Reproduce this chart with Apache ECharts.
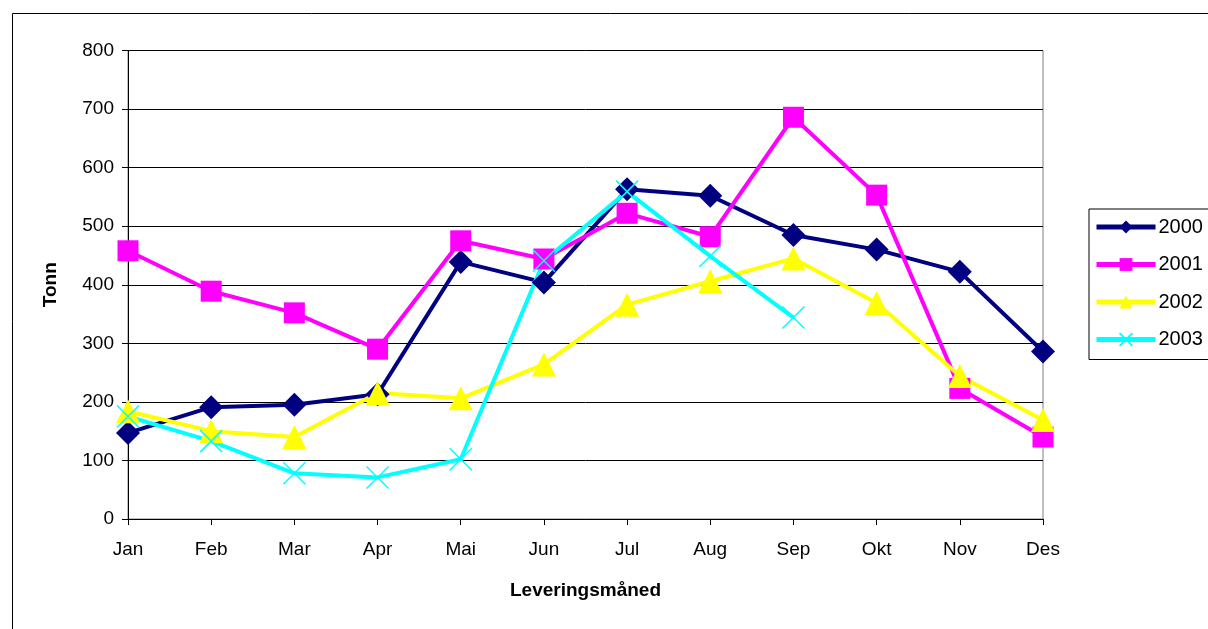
<!DOCTYPE html>
<html>
<head>
<meta charset="utf-8">
<script src="https://cdn.jsdelivr.net/npm/echarts@6/dist/echarts.min.js"></script>
<style>
html,body{margin:0;padding:0;background:#fff;}
#chart{width:1208px;height:629px;}
</style>
</head>
<body>
<div id="chart"></div>
<script>
const months = ['Jan','Feb','Mar','Apr','Mai','Jun','Jul','Aug','Sep','Okt','Nov','Des'];
const seriesNames = ['2000','2001','2002','2003'];
const v2000 = [147,191,195,213,439,404,563,552,485,460,422,286];
const v2001 = [458,389,352,290,475,444,522,482,686,553,223,140];
const v2002 = [184,150,140,215,206,264,366,406,445,369,244,169];
const v2003 = [175,133,78,71,102,441,559,449,344,null,null,null];
const yTicks = {min:0, max:800, interval:100};

const font = 'Liberation Sans, Arial, sans-serif';
const crossPath = 'path://M0,0L10,10M10,0L0,10';

function mk(name, data, color, symbol, size, extra) {
  return Object.assign({
    name: name,
    type: 'line',
    data: data,
    symbol: symbol,
    symbolSize: size,
    showAllSymbol: true,
    connectNulls: false,
    lineStyle: {color: color, width: 4},
    itemStyle: {color: color, borderColor: color, borderWidth: 0},
    emphasis: {disabled: true},
    animation: false
  }, extra || {});
}

const chart = echarts.init(document.getElementById('chart'));
chart.setOption({
  animation: false,
  backgroundColor: '#fff',
  textStyle: {fontFamily: font},
  graphic: [{
    type: 'rect',
    left: 10, top: 11,
    shape: {x: 0, y: 0, width: 1400, height: 800},
    style: {fill: 'none', stroke: '#000', lineWidth: 1},
    silent: true, z: 0
  }],
  grid: {
    left: 128, right: 165, top: 50.5, bottom: 110,
    show: true, borderColor: '#808080', borderWidth: 1,
    containLabel: false
  },
  legend: {
    orient: 'vertical',
    left: 1089, top: 209,
    data: seriesNames,
    itemWidth: 59, itemHeight: 16,
    itemGap: 17.5,
    padding: [8, 6, 10, 5],
    borderColor: '#000', borderWidth: 1,
    lineStyle: {width: 5},
    textStyle: {fontFamily: font, fontSize: 20, color: '#000', lineHeight: 20, padding: [0,0,0,-2]},
    selectedMode: false
  },
  xAxis: {
    type: 'category',
    data: months,
    boundaryGap: false,
    name: 'Leveringsmåned',
    nameLocation: 'middle',
    nameGap: 62,
    nameTextStyle: {fontFamily: font, fontSize: 19, fontWeight: 'bold', color: '#000'},
    axisLine: {lineStyle: {color: '#000', width: 1}},
    axisTick: {show: true, alignWithLabel: true, length: 6, lineStyle: {color: '#000'}},
    axisLabel: {fontFamily: font, fontSize: 19, color: '#000', margin: 21},
    splitLine: {show: false}
  },
  yAxis: {
    type: 'value',
    min: yTicks.min, max: yTicks.max, interval: yTicks.interval,
    name: 'Tonn',
    nameLocation: 'middle',
    nameGap: 68,
    nameRotate: 90,
    nameTextStyle: {fontFamily: font, fontSize: 19, fontWeight: 'bold', color: '#000'},
    axisLine: {show: true, lineStyle: {color: '#000', width: 1}},
    axisTick: {show: true, length: 6, lineStyle: {color: '#000'}},
    axisLabel: {fontFamily: font, fontSize: 19, color: '#000', margin: 14},
    splitLine: {show: true, lineStyle: {color: '#000', width: 1}}
  },
  series: [
    mk('2000', v2000, '#000080', 'diamond', 24),
    mk('2001', v2001, '#FF00FF', 'rect', 21),
    mk('2002', v2002, '#FFFF00', 'triangle', 24),
    mk('2003', v2003, '#00FFFF', crossPath, 22, {itemStyle: {color: 'none', borderColor: '#00FFFF', borderWidth: 1.5}})
  ]
});
</script>
</body>
</html>
